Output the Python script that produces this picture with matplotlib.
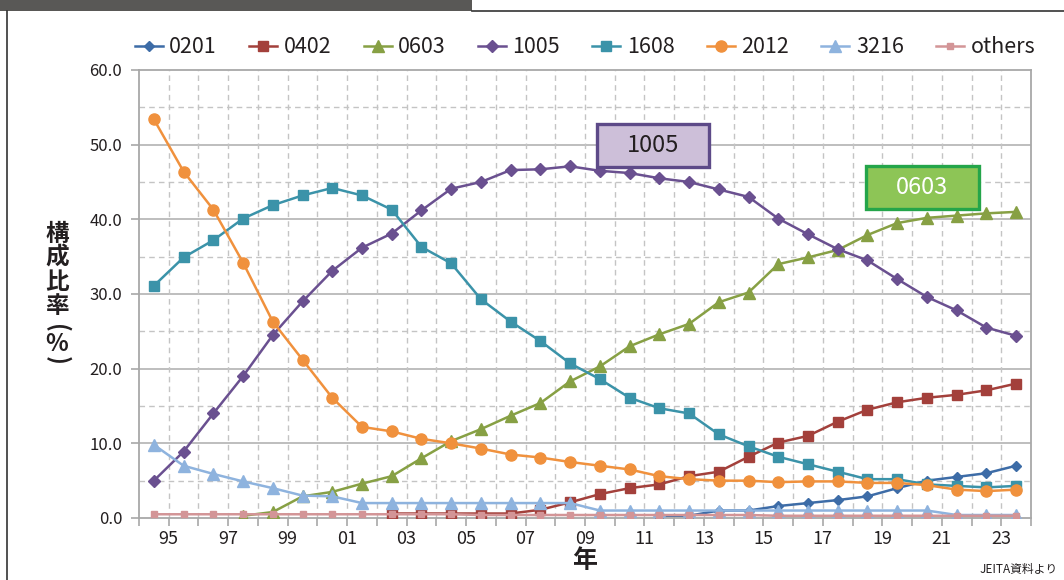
import numpy as np
import matplotlib
matplotlib.use("Agg")
import matplotlib.pyplot as plt
from matplotlib.patches import Rectangle
from matplotlib.lines import Line2D

plt.rcParams['font.family'] = ['Noto Sans CJK JP', 'DejaVu Sans']

nan = np.nan

# Tick labels on the category boundaries (two-digit years)
year_labels = ['95', '97', '99', '01', '03', '05', '07', '09', '11',
               '13', '15', '17', '19', '21', '23']

# Share (%) by chip size, one value per year
s0201 = [nan] * 17 + [0.3, 0.3, 1.0, 1.0, 1.6, 2.0, 2.4, 2.9, 4.0, 5.0, 5.5, 6.0, 7.0]
s0402 = [nan] * 8 + [0.6, 0.6, 0.6, 0.6, 0.6, 1.1, 2.1, 3.2, 4.0, 4.5, 5.6, 6.2,
                     8.2, 10.1, 11.0, 12.9, 14.5, 15.5, 16.1, 16.5, 17.1, 18.0]
s0603 = [nan] * 3 + [0.3, 0.8, 2.9, 3.5, 4.6, 5.6, 8.0, 10.3, 11.9, 13.7, 15.4, 18.3,
                     20.3, 23.0, 24.6, 26.0, 28.9, 30.2, 34.0, 34.9, 35.9, 37.9,
                     39.5, 40.2, 40.5, 40.8, 41.0]
s1005 = [5.0, 8.9, 14.0, 19.0, 24.5, 29.0, 33.1, 36.2, 38.1, 41.2, 44.1, 45.0, 46.6,
         46.7, 47.1, 46.5, 46.2, 45.5, 45.0, 44.0, 43.0, 40.1, 38.0, 36.0, 34.5,
         32.0, 29.6, 27.8, 25.5, 24.4]
s1608 = [31.1, 34.9, 37.2, 40.1, 41.9, 43.2, 44.2, 43.2, 41.3, 36.3, 34.1, 29.3, 26.3,
         23.7, 20.7, 18.6, 16.1, 14.7, 14.0, 11.2, 9.6, 8.2, 7.2, 6.2, 5.2, 5.2, 4.5,
         4.3, 4.1, 4.3]
s2012 = [53.4, 46.4, 41.3, 34.2, 26.3, 21.2, 16.1, 12.2, 11.6, 10.6, 10.0, 9.3, 8.5,
         8.1, 7.5, 7.0, 6.5, 5.6, 5.2, 5.0, 5.0, 4.8, 4.9, 4.9, 4.7, 4.7, 4.4, 3.8,
         3.6, 3.8]
s3216 = [9.8, 7.0, 5.9, 4.9, 4.0, 3.0, 2.9, 2.0, 2.0, 2.0, 2.0, 2.0, 2.0, 2.0, 2.0,
         1.0, 1.0, 1.0, 1.0, 1.0, 1.0, 1.0, 1.0, 1.0, 1.0, 1.0, 1.0, 0.4, 0.4, 0.4]
others = [0.5, 0.5, 0.5, 0.5, 0.5, 0.5, 0.5, 0.5, 0.5, 0.5, 0.5, 0.4, 0.4, 0.4, 0.4,
          0.4, 0.4, 0.4, 0.4, 0.4, 0.4, 0.3, 0.3, 0.3, 0.3, 0.3, 0.3, 0.3, 0.3, 0.3]

series = [
    ('0201', s0201, '#3d6ca7', 'D', 5.0),
    ('0402', s0402, '#a3403b', 's', 7.5),
    ('0603', s0603, '#87a044', '^', 8.0),
    ('1005', s1005, '#6a5090', 'D', 6.0),
    ('1608', s1608, '#3b93a9', 's', 7.5),
    ('2012', s2012, '#f0913d', 'o', 8.0),
    ('3216', s3216, '#8eb3de', '^', 8.0),
    ('others', others, '#d39597', 's', 4.0),
]

W, H = 1064, 580
fig = plt.figure(figsize=(W / 100, H / 100), dpi=100)
fig.patch.set_facecolor('white')


def fx(px):
    return px / W


def fy(py):
    return 1 - py / H


ax = fig.add_axes([fx(139), fy(518), fx(1031) - fx(139), fy(70) - fy(518)])

n = len(s1005)
xs = np.arange(n) + 0.5
ax.set_xlim(0, n)
ax.set_ylim(0, 60)

# grid: solid at 10s, dashed at 5s, dashed verticals on every boundary
grid_c = '#b3b3b3'
for v in range(10, 60, 10):
    ax.axhline(v, color=grid_c, lw=1.2, zorder=0)
for v in range(5, 60, 10):
    ax.axhline(v, color='#c4c4c4', lw=1.0, ls=(0, (4, 3)), zorder=0)
for k in range(1, n):
    ax.axvline(k, color='#c4c4c4', lw=1.0, ls=(0, (4, 3)), zorder=0)

for name, vals, col, mk, ms in series:
    ax.plot(xs, vals, color=col, lw=1.8, marker=mk, markersize=ms,
            markerfacecolor=col, markeredgecolor=col, label=name, zorder=3)

for sp in ax.spines.values():
    sp.set_color('#a8a8a8')
    sp.set_linewidth(1.3)

ax.set_yticks(np.arange(0, 61, 10))
ax.set_yticklabels([f'{v:.1f}' for v in range(0, 61, 10)])
ax.set_xticks(np.arange(0, n + 1))
xlabels = [''] * (n + 1)
for j, lab in enumerate(year_labels):
    xlabels[2 * j + 1] = lab
ax.set_xticklabels(xlabels)
ax.tick_params(axis='x', length=6, width=1.2, color='#a8a8a8', labelsize=13,
               labelcolor='#231f20', pad=3)
ax.tick_params(axis='y', length=6, width=1.2, color='#a8a8a8', labelsize=12,
               labelcolor='#231f20', pad=6)

leg = ax.legend(loc='lower center', bbox_to_anchor=(0.5, 1.0), ncol=8, frameon=False,
                fontsize=15.5, handlelength=1.3, handletextpad=0.3, columnspacing=1.5,
                borderaxespad=0.15, labelcolor='#231f20')

# callout boxes
def callout(cx, cy, w, h, label, fc, ec, tc):
    ax.add_patch(Rectangle((cx - w / 2, cy - h / 2), w, h, fc=fc, ec=ec, lw=2.4,
                           zorder=5))
    ax.text(cx, cy, label, fontsize=17, color=tc, ha='center', va='center', zorder=6)


callout(17.29, 49.9, 3.77, 5.76, '1005', '#cdbfd9', '#5d4a88', '#231f20')
callout(26.35, 44.26, 3.80, 5.76, '0603', '#8dc556', '#24a54a', 'white')

# axis titles
txt_c = '#231f20'
fig.text(fx(57), fy(270), '構\n成\n比\n率', fontsize=17, fontweight='bold', color=txt_c,
         ha='center', va='center', linespacing=1.0)
fig.text(fx(57), fy(328), '(', fontsize=17, fontweight='bold', color=txt_c,
         ha='center', va='center', rotation=270)
fig.text(fx(57), fy(344), '%', fontsize=17, fontweight='bold', color=txt_c,
         ha='center', va='center')
fig.text(fx(57), fy(360), ')', fontsize=17, fontweight='bold', color=txt_c,
         ha='center', va='center', rotation=270)
fig.text(fx(585), fy(561), '年', fontsize=18, fontweight='bold', color=txt_c,
         ha='center', va='center')
fig.text(fx(1058), fy(570), 'JEITA資料より', fontsize=8.5, color=txt_c,
         ha='right', va='center')

# page frame and header band
fig.patches.append(Rectangle((0, fy(11)), fx(472), 1 - fy(11), transform=fig.transFigure,
                             fc='#595856', ec='none'))
fig.lines.append(Line2D([fx(472), 1], [fy(11), fy(11)], transform=fig.transFigure,
                        color='#333333', lw=1.2))
fig.lines.append(Line2D([fx(6.5), fx(6.5)], [fy(11), 0], transform=fig.transFigure,
                        color='#333333', lw=1.2))

fig.savefig('out.png', dpi=100)
